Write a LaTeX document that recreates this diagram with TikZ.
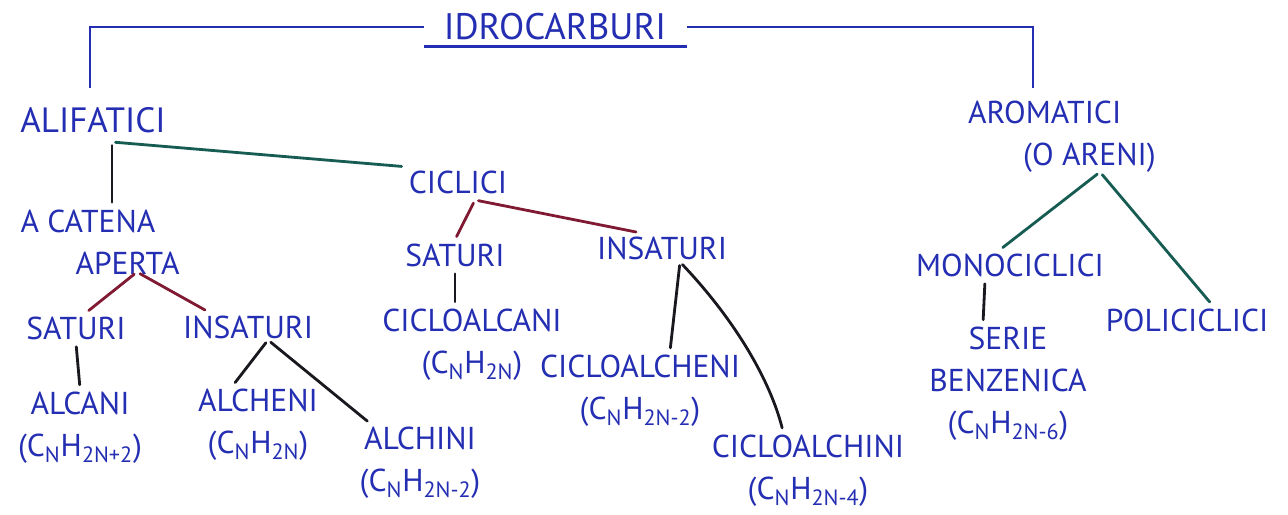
\documentclass[tikz,border=0pt]{standalone}
\usepackage{fontspec}
\setmainfont{PT Sans}
\usetikzlibrary{
    positioning
}
\definecolor{inkblue}{RGB}{36,46,178}
\definecolor{inkgreen}{RGB}{22,92,82}
\definecolor{inkred}{RGB}{128,26,50}
\definecolor{inkdark}{RGB}{24,24,30}

\begin{document}
\begin{tikzpicture}[
    x=0.02cm, y=-0.02cm,
    term/.style={
        text=inkblue,
        font=\fontsize{18}{24}\selectfont,
        align=center,
        inner sep=2pt
    },
    stroke/.style={
        line width=1.6pt,
        line cap=round,
        shorten <=2pt,
        shorten >=2pt
    }
]
\useasboundingbox[fill=white] (0,0) rectangle (1288,514);

% titolo
\node[term, font=\fontsize{21}{24}\selectfont,
inner xsep=0.4cm, inner ysep=0.12cm] (idro) at (555,27) {IDROCARBURI};

\node[term, font=\fontsize{20}{24}\selectfont] (alifatici) at (93,120) {ALIFATICI};
\node[term, align=left] (aromatici) at (1062,137)
{AROMATICI\\\hspace*{1.1cm}(O ARENI)};

% alifatici
\node[term, align=left] (catena) at (100,242)
{A CATENA\\\hspace*{1.1cm}APERTA};
\node[term] (ciclici) at (458,182) {CICLICI};

\node[term] (satA) at (76,328) {SATURI};
\node[term] (insatA) at (248,327) {INSATURI};
\node[term] (alcani) at (80,428) {ALCANI\\(C\textsubscript{N}H\textsubscript{2N+2})};
\node[term] (alcheni) at (258,425) {ALCHENI\\(C\textsubscript{N}H\textsubscript{2N})};
\node[term] (alchini) at (420,463) {ALCHINI\\(C\textsubscript{N}H\textsubscript{2N-2})};

% ciclici
\node[term] (satC) at (455,255) {SATURI};
\node[term] (insatC) at (662,248) {INSATURI};
\node[term] (cicloalcani) at (472,345) {CICLOALCANI\\(C\textsubscript{N}H\textsubscript{2N})};
\node[term] (cicloalcheni) at (640,391) {CICLOALCHENI\\(C\textsubscript{N}H\textsubscript{2N-2})};
\node[term] (cicloalchini) at (808,471) {CICLOALCHINI\\(C\textsubscript{N}H\textsubscript{2N-4})};

% aromatici
\node[term] (mono) at (1010,265) {MONOCICLICI};
\node[term] (poli) at (1187,320) {POLICICLICI};
\node[term] (serie) at (1008,384)
{SERIE\\BENZENICA\\(C\textsubscript{N}H\textsubscript{2N-6})};

\coordinate (alifTop) at (90,88);
\coordinate (aromTop) at (1033,88);
\coordinate (alifFork) at (112,142);
\coordinate (catFork) at (137,272);
\coordinate (insatAFork) at (268,340);
\coordinate (cicFork) at (475,200);
\coordinate (insatCFork) at (680,262);
\coordinate (aromFork) at (1100,172);

\draw[inkblue, line width=1.4pt] (idro.south west) -- (idro.south east);
\draw[inkblue, line width=1.4pt] (idro.west) -| (alifTop);
\draw[inkblue, line width=1.4pt] (idro.east) -| (aromTop);

\draw[stroke, inkgreen] (alifFork) -- (ciclici.north west);
\draw[stroke, inkdark] (alifFork) -- (alifFork |- catena.north);

\draw[stroke, inkred] (catFork) -- ([xshift=0.2cm]satA.north);
\draw[stroke, inkred] (catFork) -- ([xshift=-0.8cm]insatA.north);
\draw[stroke, inkdark] (satA.south) -- (alcani.north);
\draw[stroke, inkdark] (insatAFork) -- ([xshift=-0.5cm]alcheni.north);
\draw[stroke, inkdark] (insatAFork) -- ([xshift=-1cm]alchini.north);

\draw[stroke, inkred] (cicFork) -- (satC.north);
\draw[stroke, inkred] (cicFork) -- ([xshift=-0.45cm]insatC.north);
\draw[stroke, inkdark] (satC.south) -- (cicloalcani.north -| satC.south);
\draw[stroke, inkdark] (insatCFork) -- ([xshift=0.6cm]cicloalcheni.north);
\draw[stroke, inkdark] (insatCFork)
.. controls (735,320) and (770,380) .. ([xshift=-0.5cm]cicloalchini.north);

\draw[stroke, inkgreen] (aromFork) -- ([xshift=-0.2cm]mono.north);
\draw[stroke, inkgreen] (aromFork) -- ([xshift=0.5cm]poli.north);
\draw[stroke, inkdark] ([xshift=-0.5cm]mono.south) -- ([xshift=-0.5cm]serie.north);

\end{tikzpicture}
\end{document}
